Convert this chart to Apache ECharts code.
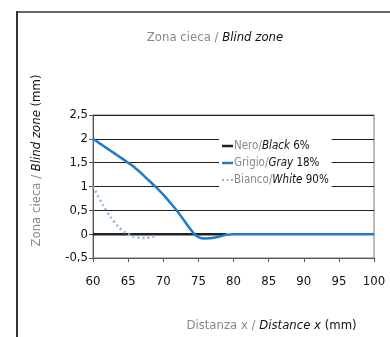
<!DOCTYPE html>
<html><head><meta charset="utf-8">
<style>html,body{margin:0;padding:0;background:#fff}#c{width:390px;height:337px}</style>
<script src="https://cdn.jsdelivr.net/npm/echarts@6/dist/echarts.min.js"></script>
</head><body><div id="c"></div>
<script>
var FONT = "'DejaVu Sans Condensed','Liberation Sans Narrow','Roboto',sans-serif";
var blackX = [60, 65, 70, 75, 79];
var blackY = [0, 0, 0, 0, 0];
var grayX = [60, 61, 62, 63, 64, 65, 66, 67, 68, 69, 70, 71, 72, 73, 74, 75, 76, 77, 78, 79, 80, 85, 90, 95, 100];
var grayY = [2.0, 1.9, 1.8, 1.7, 1.6, 1.5, 1.39, 1.26, 1.12, 0.98, 0.83, 0.66, 0.48, 0.28, 0.08, -0.06, -0.09, -0.08, -0.05, -0.01, 0, 0, 0, 0, 0];
var whiteX = [60, 61, 62, 63, 64, 65, 66, 67, 68, 69];
var whiteY = [1.0, 0.72, 0.47, 0.26, 0.1, 0.0, -0.06, -0.08, -0.07, -0.03];
var xTicks = [60, 65, 70, 75, 80, 85, 90, 95, 100];
var yTicks = ['-0,5', '0', '0,5', '1', '1,5', '2', '2,5'];
var seriesNames = ['Nero/Black 6%', 'Grigio/Gray 18%', 'Bianco/White 90%'];
var legendParts = [['Nero/', 'Black', ' 6%'], ['Grigio/', 'Gray', ' 18%'], ['Bianco/', 'White', ' 90%']];

function pairs(xs, ys) { return xs.map(function (x, i) { return [x, ys[i]]; }); }

var chart = echarts.init(document.getElementById('c'), null, { renderer: 'canvas' });
chart.setOption({
  animation: false,
  textStyle: { fontFamily: FONT },
  title: {
    text: '{a|Zona cieca / }{b|Blind zone}',
    left: 210, top: 26, textAlign: 'center',
    textStyle: {
      fontWeight: 'normal',
      rich: {
        a: { fontFamily: FONT, fontSize: 13, color: '#888', fontWeight: 'normal' },
        b: { fontFamily: FONT, fontSize: 13, color: '#111', fontStyle: 'italic', fontWeight: 'normal' }
      }
    }
  },
  graphic: [
    { type: 'line', shape: { x1: 16, y1: 12, x2: 390, y2: 12 }, style: { stroke: '#666', lineWidth: 2 } },
    { type: 'line', shape: { x1: 17, y1: 11, x2: 17, y2: 337 }, style: { stroke: '#333', lineWidth: 2 } }
  ],
  legend: {
    left: 219, top: 135, orient: 'vertical', itemGap: 5,
    itemWidth: 11, itemHeight: 2.5,
    backgroundColor: '#fff', padding: [5, 3, 5, 3],
    data: [
      { name: seriesNames[0], icon: 'rect' },
      { name: seriesNames[1], icon: 'rect' },
      { name: seriesNames[2], icon: 'path://M0,0h2v2h-2z M4.5,0h2v2h-2z M9,0h2v2h-2z' }
    ],
    formatter: function (name) {
      var i = seriesNames.indexOf(name);
      var p = legendParts[i];
      return '{a|' + p[0] + '}{b|' + p[1] + '}{c|' + p[2] + '}';
    },
    textStyle: {
      padding: [0, 0, 0, -4],
      rich: {
        a: { fontFamily: FONT, fontSize: 11.5, color: '#888' },
        b: { fontFamily: FONT, fontSize: 11.5, color: '#111', fontStyle: 'italic' },
        c: { fontFamily: FONT, fontSize: 11.5, color: '#111' }
      }
    }
  },
  grid: { left: 93, right: 16, top: 115, bottom: 79, show: true, borderColor: '#777', borderWidth: 1, outerBoundsMode: 'none', containLabel: false },
  xAxis: {
    type: 'value', min: 60, max: 100, interval: 5,
    name: '{a|Distanza x / }{b|Distance x}{c| (mm)}',
    nameLocation: 'middle', nameGap: 61,
    nameTextStyle: {
      padding: [0, 0, 0, 76],
      rich: {
        a: { fontFamily: FONT, fontSize: 13, color: '#888' },
        b: { fontFamily: FONT, fontSize: 13, color: '#111', fontStyle: 'italic' },
        c: { fontFamily: FONT, fontSize: 13, color: '#111' }
      }
    },
    axisLine: { show: true, onZero: false, lineStyle: { color: '#555', width: 1 } },
    axisTick: { show: true, inside: false, length: 4, lineStyle: { color: '#555' } },
    splitLine: { show: false },
    axisLabel: {
      fontFamily: FONT, fontSize: 13, color: '#111', margin: 17,
      formatter: function (v) { return xTicks.indexOf(v) >= 0 ? String(v) : ''; }
    }
  },
  yAxis: {
    type: 'value', min: -0.5, max: 2.5, interval: 0.5,
    name: '{a|Zona cieca / }{b|Blind zone}{c| (mm)}',
    nameLocation: 'middle', nameGap: 50, nameRotate: 90,
    nameTextStyle: {
      padding: [0, 0, 0, 52],
      rich: {
        a: { fontFamily: FONT, fontSize: 13, color: '#888' },
        b: { fontFamily: FONT, fontSize: 13, color: '#111', fontStyle: 'italic' },
        c: { fontFamily: FONT, fontSize: 13, color: '#111' }
      }
    },
    axisLine: { show: true, lineStyle: { color: '#555', width: 1 } },
    axisTick: { show: true, inside: false, length: 4, lineStyle: { color: '#555' } },
    splitLine: { show: true, lineStyle: { color: '#222', width: 1 } },
    axisLabel: {
      fontFamily: FONT, fontSize: 13, color: '#111', margin: 5,
      formatter: function (v) { var i = Math.round((v + 0.5) / 0.5); return yTicks[i]; }
    }
  },
  series: [
    {
      name: seriesNames[0], type: 'line', symbol: 'none', z: 3,
      data: pairs(blackX, blackY),
      lineStyle: { color: '#222', width: 2.5 }, itemStyle: { color: '#222' }
    },
    {
      name: seriesNames[1], type: 'line', symbol: 'none', smooth: 0.5, z: 4,
      data: pairs(grayX, grayY),
      lineStyle: { color: '#1f7bc6', width: 2.5 }, itemStyle: { color: '#1f7bc6' }
    },
    {
      name: seriesNames[2], type: 'line', symbol: 'none', smooth: 0.4, z: 4,
      data: pairs(whiteX, whiteY),
      lineStyle: { color: '#8db3e2', width: 2.5, type: [2, 3] }, itemStyle: { color: '#8db3e2' }
    }
  ]
});
</script>
</body></html>
